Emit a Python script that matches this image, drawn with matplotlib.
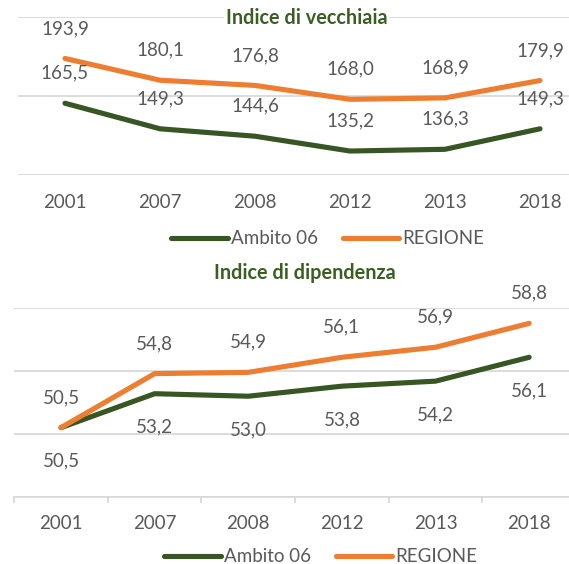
import matplotlib
matplotlib.use("Agg")
import matplotlib.pyplot as plt
from matplotlib.lines import Line2D

years = ["2001", "2007", "2008", "2012", "2013", "2018"]
vecchiaia_ambito = [165.5, 149.3, 144.6, 135.2, 136.3, 149.3]
vecchiaia_regione = [193.9, 180.1, 176.8, 168.0, 168.9, 179.9]
dipendenza_ambito = [50.5, 53.2, 53.0, 53.8, 54.2, 56.1]
dipendenza_regione = [50.5, 54.8, 54.9, 56.1, 56.9, 58.8]
series_names = ["Ambito 06", "REGIONE"]
titles = ["Indice di vecchiaia", "Indice di dipendenza"]

GREEN = "#375623"
ORANGE = "#ED7D31"
TEXT = "#595959"
GRID = "#D9D9D9"
TITLE = "#3B5E22"
FONT = "Lato"
FS = 13.5

plt.rcParams['font.family'] = [FONT, 'DejaVu Sans']

fig = plt.figure(figsize=(5.69, 5.64), dpi=100)

def fmt(v):
    return f"{v:.1f}".replace(".", ",")

def px_axes(left, top, right, bottom):
    W, H = 569, 564
    return fig.add_axes([left / W, 1 - bottom / H, (right - left) / W, (bottom - top) / H])

x = list(range(len(years)))

# ---------- Top chart ----------
ax1 = px_axes(17.5, 17.3, 587.5, 175)
ax1.plot(x, vecchiaia_ambito, color=GREEN, lw=3.7, solid_capstyle='round', solid_joinstyle='round', zorder=3)
ax1.plot(x, vecchiaia_regione, color=ORANGE, lw=3.7, solid_capstyle='round', solid_joinstyle='round', zorder=3)
ax1.set_xlim(-0.5, len(years) - 0.5)
ax1.set_ylim(120, 220)
ax1.set_yticks([120, 170, 220])
ax1.yaxis.grid(True, color=GRID, lw=1.3)
ax1.set_axisbelow(True)
for s in ax1.spines.values():
    s.set_visible(False)
ax1.tick_params(axis='y', left=False, labelleft=False)
ax1.set_xticks(x)
ax1.set_xticklabels(years, fontsize=FS, color=TEXT)
ax1.tick_params(axis='x', length=0, pad=13.5)
for xi, v in zip(x, vecchiaia_ambito):
    ax1.annotate(fmt(v), (xi, v), xytext=(0, 21.6), textcoords='offset points',
                 ha='center', va='center', fontsize=FS, color=TEXT)
for xi, v in zip(x, vecchiaia_regione):
    ax1.annotate(fmt(v), (xi, v), xytext=(0, 21.6), textcoords='offset points',
                 ha='center', va='center', fontsize=FS, color=TEXT)

# ---------- Bottom chart ----------
ax2 = px_axes(14.2, 308.3, 576, 496.7)
ax2.plot(x, dipendenza_ambito, color=GREEN, lw=3.7, solid_capstyle='round', solid_joinstyle='round', zorder=3)
ax2.plot(x, dipendenza_regione, color=ORANGE, lw=3.7, solid_capstyle='round', solid_joinstyle='round', zorder=3)
ax2.set_xlim(-0.5, len(years) - 0.5)
ax2.set_ylim(45, 60)
ax2.set_yticks([45, 50, 55, 60])
ax2.yaxis.grid(True, color=GRID, lw=1.3)
ax2.set_axisbelow(True)
for k, s in ax2.spines.items():
    s.set_visible(k == 'bottom')
ax2.spines['bottom'].set_color(GRID)
ax2.spines['bottom'].set_linewidth(1.3)
ax2.tick_params(axis='y', left=False, labelleft=False)
ax2.set_xticks(x)
ax2.set_xticklabels(years, fontsize=FS, color=TEXT)
ax2.tick_params(axis='x', which='major', length=0, pad=13.5)
ax2.set_xticks([i - 0.5 for i in range(len(years) + 1)], minor=True)
ax2.tick_params(axis='x', which='minor', length=4.5, width=1.3, color=GRID)
for xi, v in zip(x, dipendenza_ambito):
    ax2.annotate(fmt(v), (xi, v), xytext=(0, -24), textcoords='offset points',
                 ha='center', va='center', fontsize=FS, color=TEXT)
for xi, v in zip(x, dipendenza_regione):
    ax2.annotate(fmt(v), (xi, v), xytext=(0, 21.6), textcoords='offset points',
                 ha='center', va='center', fontsize=FS, color=TEXT)

# ---------- Titles ----------
fig.text(306.5 / 569, 1 - 18 / 564, titles[0], ha='center', va='center',
         fontsize=14.3, fontweight='bold', color=TITLE,
         bbox=dict(facecolor='white', edgecolor='none', pad=1))
fig.text(305 / 569, 1 - 273 / 564, titles[1], ha='center', va='center',
         fontsize=14.3, fontweight='bold', color=TITLE)

# ---------- Legends ----------
handles = [Line2D([0], [0], color=GREEN, lw=3.7, solid_capstyle='round'),
           Line2D([0], [0], color=ORANGE, lw=3.7, solid_capstyle='round')]
for cy, cx in [(239, 328), (556.7, 321)]:
    fig.legend(handles, series_names, loc='center',
               bbox_to_anchor=(cx / 569, 1 - cy / 564), ncol=2, frameon=False,
               fontsize=FS, labelcolor=TEXT, handlelength=3.0, handletextpad=0.2,
               columnspacing=1.3, borderpad=0, borderaxespad=0)

fig.savefig("out.png", dpi=100)
